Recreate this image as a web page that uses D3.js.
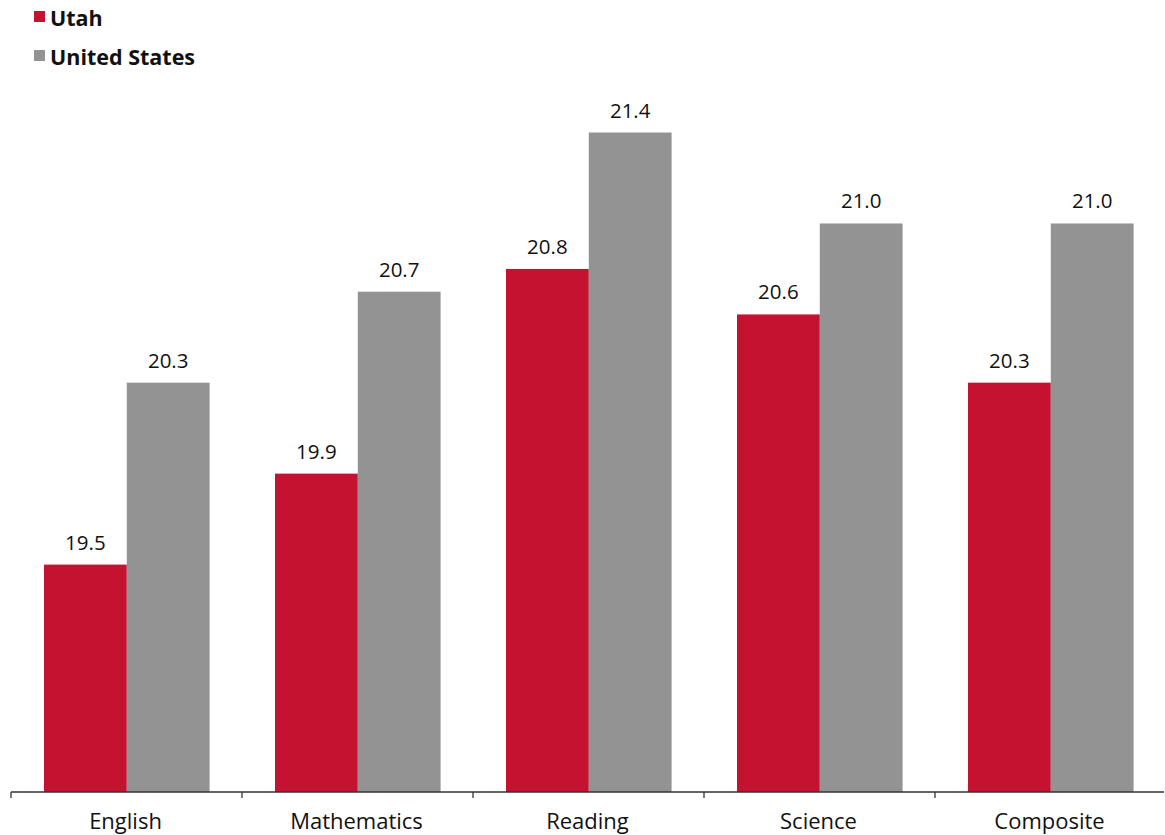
<!DOCTYPE html>
<html><head><meta charset="utf-8">
<script src="https://cdn.jsdelivr.net/npm/d3@7"></script>
<style>body{margin:0;background:#fff}svg{display:block}</style>
</head><body>
<svg id="c" width="1165" height="835"></svg>
<script>
const categories = ["English","Mathematics","Reading","Science","Composite"];
const seriesNames = ["Utah","United States"];
const utah = [19.5, 19.9, 20.8, 20.6, 20.3];
const us = [20.3, 20.7, 21.4, 21.0, 21.0];
const colors = ["#C41230","#939393"];

const svg = d3.select("#c");
const font = "'Open Sans', 'Noto Sans', sans-serif";
const x0 = d3.scaleBand().domain(categories).range([11,1166]).paddingInner(0).paddingOuter(0);
const x1 = d3.scaleBand().domain(seriesNames).range([33, 33+165.6]);
const y = d3.scaleLinear().domain([18.5, 21.4]).range([792, 132.5]);

const data = categories.map((c,i)=>({cat:c, vals:[utah[i], us[i]]}));
const g = svg.append("g");
data.forEach(d=>{
  d.vals.forEach((v,j)=>{
    const xs = x0(d.cat)+x1(seriesNames[j]);
    g.append("rect").attr("x",xs).attr("y",y(v)).attr("width",x1.bandwidth()).attr("height",y(18.5)-y(v))
      .attr("fill",colors[j]);
    g.append("text").attr("x",xs+x1.bandwidth()/2).attr("y",y(v)-15).attr("text-anchor","middle")
      .attr("font-family",font).attr("font-size",20.5).attr("fill","#111").text(v.toFixed(1));
  });
});

// axis
const ax = svg.append("g").attr("transform","translate(0,792)");
ax.append("line").attr("x1",11).attr("x2",1164).attr("stroke","#333").attr("stroke-width",1.3);
const tickXs = categories.map(c=>x0(c));
tickXs.forEach(t=>ax.append("line").attr("x1",t).attr("x2",t).attr("y1",0).attr("y2",6).attr("stroke","#333").attr("stroke-width",1.3));
categories.forEach(c=>{
  ax.append("text").attr("x",x0(c)+x0.bandwidth()/2-1).attr("y",37).attr("text-anchor","middle")
    .attr("font-family",font).attr("font-size",22).attr("fill","#111").text(c);
});

// legend
seriesNames.forEach((s,i)=>{
  const ly = 11 + i*39;
  svg.append("rect").attr("x",34).attr("y",ly).attr("width",11).attr("height",11).attr("fill",colors[i]);
  svg.append("text").attr("x",50).attr("y",ly+15).attr("font-family",font).attr("font-weight",700)
    .attr("font-size",21.5).attr("fill","#111").text(s);
});
</script>
</body></html>
